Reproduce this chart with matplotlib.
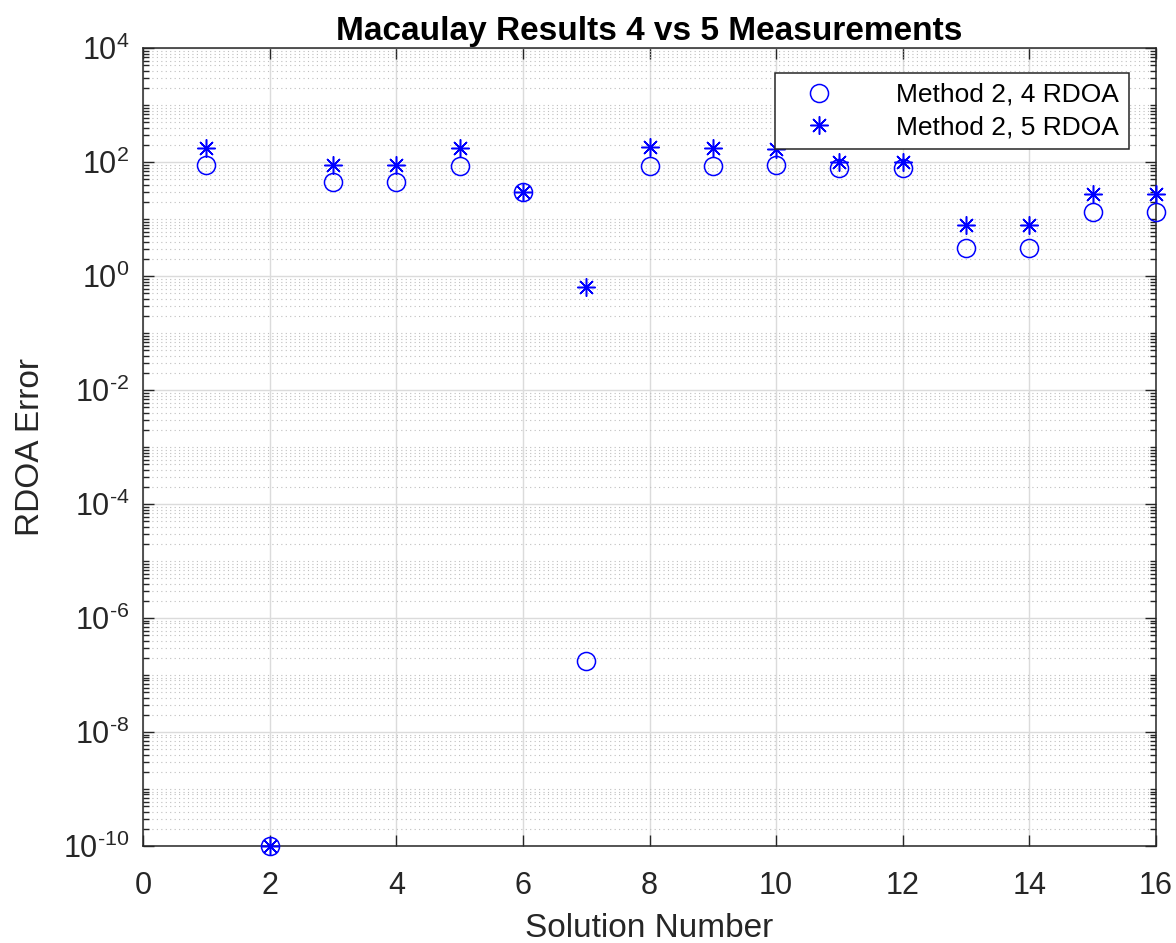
import matplotlib
matplotlib.use('Agg')
import matplotlib.pyplot as plt
from matplotlib.ticker import FixedLocator, NullFormatter
import numpy as np

plt.rcParams['font.family'] = ['Liberation Sans', 'DejaVu Sans']
plt.rcParams['mathtext.fontset'] = 'custom'
plt.rcParams['mathtext.rm'] = 'Liberation Sans'

# numero da solucao e erro RDOA
solucao = np.arange(1, 17)
erro_4rdoa = [88, 1e-10, 45, 45, 86, 30, 1.75e-7, 86, 86, 90, 80, 77, 3.1, 3.1, 13.4, 13.4]
erro_5rdoa = [176, 1e-10, 90, 90, 176, 30, 0.63, 180, 173, 168, 100, 100, 7.85, 7.85, 28, 28]
rotulos = ['Method 2, 4 RDOA', 'Method 2, 5 RDOA']

cinza = (0.15, 0.15, 0.15)

fig = plt.figure(figsize=(11.76, 9.43), dpi=100)
ax = fig.add_axes([0.1216, 0.1029, 0.8614, 0.8462])

ax.plot(solucao, erro_4rdoa, linestyle='none', marker='o', markersize=13,
        markerfacecolor='none', markeredgecolor='blue', markeredgewidth=1.1,
        label=rotulos[0], clip_on=False, zorder=5)
ax.plot(solucao, erro_5rdoa, linestyle='none', marker=(8, 2, 0), markersize=13,
        markeredgecolor='blue', color='blue', markeredgewidth=1.1,
        label=rotulos[1], clip_on=False, zorder=5)

ax.set_yscale('log')
ax.set_xlim(0, 16)
ax.set_ylim(1e-10, 1e4)

ax.set_xticks(np.arange(0, 17, 2))
expoentes = list(range(-10, 5, 2))
ax.yaxis.set_major_locator(FixedLocator([10.0 ** e for e in expoentes]))
ax.set_yticklabels(['$\\mathregular{10^{%s}}$' % (('\\text{-}%d' % -e) if e < 0 else '%d' % e)
                    for e in expoentes])
menores = [k * 10.0 ** e for e in range(-10, 4) for k in range(1, 10)
           if not (k == 1 and e % 2 == 0)]
ax.yaxis.set_minor_locator(FixedLocator(menores))
ax.yaxis.set_minor_formatter(NullFormatter())

ax.grid(True, which='major', axis='both', color=(0.86, 0.86, 0.86), linewidth=1, linestyle='-')
ax.grid(True, which='minor', axis='y', color=(0.75, 0.75, 0.75), linewidth=0.8, linestyle=(0, (1, 3)))
ax.set_axisbelow(True)

ax.tick_params(axis='both', which='both', direction='in', top=True, right=True,
               colors=cinza, labelcolor=cinza, labelsize=22, width=1)
ax.tick_params(which='major', length=8)
ax.tick_params(which='minor', length=4)
ax.tick_params(axis='x', pad=18)
ax.tick_params(axis='y', pad=10)
for lado in ax.spines.values():
    lado.set_color(cinza)
    lado.set_linewidth(1.1)

ax.set_xlabel('Solution Number', fontsize=24, color=cinza, labelpad=9)
ax.set_ylabel('RDOA Error', fontsize=24, color=cinza, labelpad=12)
ax.set_title('Macaulay Results 4 vs 5 Measurements', fontsize=24, fontweight='bold', pad=6)

leg = ax.legend(loc='upper right', bbox_to_anchor=(0.973, 0.969), fontsize=19,
                frameon=True, fancybox=False, borderpad=0.38, handletextpad=1.6,
                handlelength=2.6, labelspacing=0.32, borderaxespad=0, framealpha=1)
leg.get_frame().set_edgecolor(cinza)
leg.get_frame().set_linewidth(1.1)
leg.set_zorder(10)

fig.savefig('out.png', dpi=100)
